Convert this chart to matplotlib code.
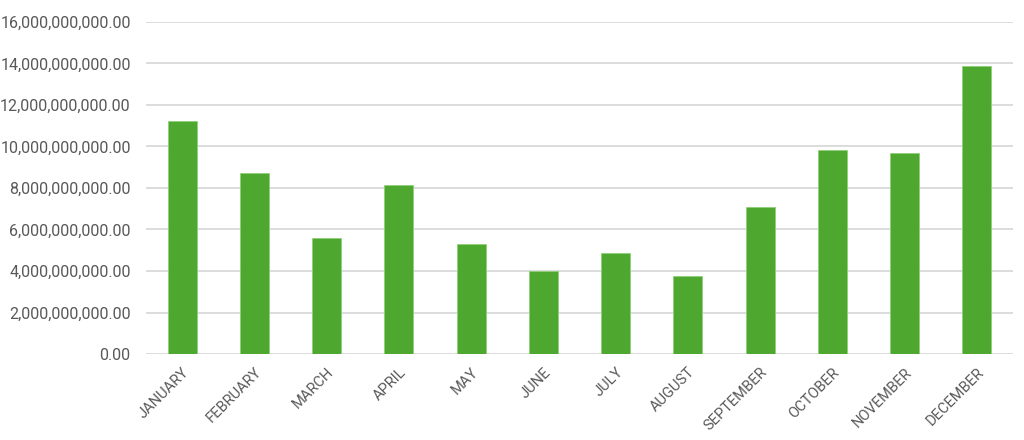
import matplotlib
matplotlib.use("Agg")
import matplotlib.pyplot as plt
from matplotlib.ticker import FuncFormatter

months = ["JANUARY", "FEBRUARY", "MARCH", "APRIL", "MAY", "JUNE", "JULY",
          "AUGUST", "SEPTEMBER", "OCTOBER", "NOVEMBER", "DECEMBER"]
values = [11.24e9, 8.72e9, 5.57e9, 8.13e9, 5.29e9, 4.01e9, 4.88e9,
          3.78e9, 7.07e9, 9.83e9, 9.69e9, 13.90e9]
yticks = [0, 2e9, 4e9, 6e9, 8e9, 10e9, 12e9, 14e9, 16e9]

plt.rcParams['font.family'] = ['Roboto', 'DejaVu Sans']

fig = plt.figure(figsize=(10.24, 4.40), dpi=100)
ax = fig.add_axes([146/1024, 1 - 354/440, (1013 - 146)/1024, (354 - 22)/440])

x = list(range(len(months)))
ax.bar(x, values, width=0.4, color="#4EA72E", edgecolor="#8fd07a", linewidth=0.6, zorder=3)

ax.set_xlim(-0.5, len(months) - 0.5)
ax.set_ylim(0, 16e9)
ax.set_yticks(yticks)
ax.yaxis.set_major_formatter(FuncFormatter(lambda v, p: f"{v:,.2f}"))
ax.grid(axis='y', color="#d9d9d9", linewidth=1.3, zorder=0)
ax.set_axisbelow(True)
for s in ax.spines.values():
    s.set_visible(False)
ax.tick_params(axis='both', length=0, colors="#595959")
ax.tick_params(axis='y', pad=11, labelsize=11.5)
ax.set_xticks(x)
ax.set_xticklabels(months, rotation=45, ha='right', rotation_mode='anchor', fontsize=10.5)
ax.tick_params(axis='x', pad=8)

fig.savefig("out.png", dpi=100, facecolor="white")
